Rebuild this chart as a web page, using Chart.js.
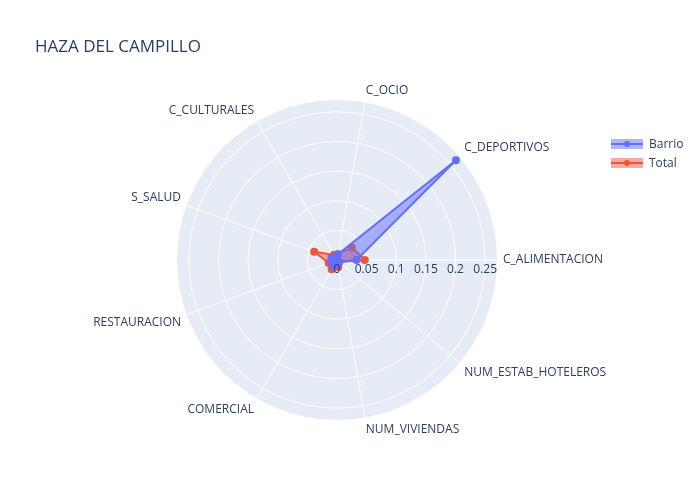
<!DOCTYPE html>
<html>
<head>
<meta charset="utf-8">
<script src="https://cdn.jsdelivr.net/npm/chart.js@4/dist/chart.umd.min.js"></script>
<style>
  body { margin:0; background:#fff; font-family:"Open Sans", sans-serif; }
  #wrap { position:relative; width:700px; height:500px; }
  #title { position:absolute; left:35px; top:34px; font-size:17px; color:#2a3f5f; }
  #legend { position:absolute; left:610px; top:134px; font-size:12px; color:#2a3f5f; }
  .item { display:flex; align-items:center; height:19px; }
  .sw { position:relative; width:34px; height:12px; margin-right:5px; }
</style>
</head>
<body>
<div id="wrap">
  <canvas id="c" width="700" height="500"></canvas>
  <div id="title">HAZA DEL CAMPILLO</div>
  <div id="legend">
    <div class="item"><canvas class="sw" id="l0" width="34" height="12"></canvas>Barrio</div>
    <div class="item"><canvas class="sw" id="l1" width="34" height="12"></canvas>Total</div>
  </div>
</div>
<script>
// categories in clockwise order starting at the east (plotly goes counter-clockwise)
var categories = ['C_ALIMENTACION','NUM_ESTAB_HOTELEROS','NUM_VIVIENDAS','COMERCIAL','RESTAURACION','S_SALUD','C_CULTURALES','C_OCIO','C_DEPORTIVOS'];
var barrio = [0.033, 0.005, 0.008, 0.012, 0.010, 0.010, 0.005, 0.010, 0.262];
var total  = [0.047, 0.005, 0.012, 0.018, 0.015, 0.041, 0.010, 0.010, 0.033];
var tickValues = [0, 0.05, 0.1, 0.15, 0.2, 0.25];
var rMax = 0.27;

var colors = ['#636efa', '#ef553b'];
var fills = ['rgba(99,110,250,0.5)', 'rgba(239,85,59,0.5)'];

var polarBg = {
  id: 'polarBg',
  beforeDatasetsDraw: function(chart) {
    var s = chart.scales.r, ctx = chart.ctx;
    var cx = s.xCenter, cy = s.yCenter, R = s.drawingArea;
    ctx.save();
    ctx.fillStyle = '#e5ecf6';
    ctx.beginPath(); ctx.arc(cx, cy, R, 0, Math.PI * 2); ctx.fill();
    ctx.strokeStyle = '#fff'; ctx.lineWidth = 1;
    tickValues.forEach(function(v) {
      if (v === 0) return;
      ctx.beginPath(); ctx.arc(cx, cy, s.getDistanceFromCenterForValue(v), 0, Math.PI * 2); ctx.stroke();
    });
    categories.forEach(function(c, i) {
      var p = s.getPointPosition(i, R);
      ctx.beginPath(); ctx.moveTo(cx, cy); ctx.lineTo(p.x, p.y); ctx.stroke();
    });
    ctx.restore();
  },
  afterDraw: function(chart) {
    var s = chart.scales.r, ctx = chart.ctx;
    var cx = s.xCenter, cy = s.yCenter, R = s.drawingArea;
    ctx.save();
    ctx.fillStyle = '#2a3f5f';
    ctx.font = '12px "Open Sans", sans-serif';
    categories.forEach(function(c, i) {
      var p = s.getPointPosition(i, R + 6);
      var dx = p.x - cx, dy = p.y - cy;
      ctx.textAlign = Math.abs(dx) < 20 ? 'center' : (dx > 0 ? 'left' : 'right');
      ctx.textBaseline = Math.abs(dy) < 20 ? 'middle' : (dy > 0 ? 'top' : 'bottom');
      ctx.fillText(c, p.x, p.y);
    });
    ctx.textAlign = 'center'; ctx.textBaseline = 'top';
    tickValues.forEach(function(v) {
      ctx.fillText(String(v), cx + s.getDistanceFromCenterForValue(v), cy + 4);
    });
    ctx.restore();
  }
};

new Chart(document.getElementById('c'), {
  type: 'radar',
  data: {
    labels: categories,
    datasets: [
      { label: 'Barrio', data: barrio, borderColor: colors[0], backgroundColor: fills[0], pointBackgroundColor: colors[0], pointBorderColor: colors[0], pointRadius: 3, borderWidth: 2, fill: true },
      { label: 'Total', data: total, borderColor: colors[1], backgroundColor: fills[1], pointBackgroundColor: colors[1], pointBorderColor: colors[1], pointRadius: 3, borderWidth: 2, fill: true }
    ]
  },
  options: {
    responsive: false,
    animation: false,
    layout: { padding: { left: 177, right: 203, top: 100, bottom: 80 } },
    plugins: { legend: { display: false }, tooltip: { enabled: false } },
    scales: {
      r: {
        min: 0, max: rMax, startAngle: 90,
        ticks: { display: false, stepSize: 0.05 },
        grid: { display: false },
        angleLines: { display: false },
        pointLabels: { display: false }
      }
    }
  },
  plugins: [polarBg]
});

// legend swatches
[0, 1].forEach(function(i) {
  var ctx = document.getElementById('l' + i).getContext('2d');
  ctx.fillStyle = fills[i]; ctx.fillRect(1, 1, 32, 10);
  ctx.strokeStyle = colors[i]; ctx.lineWidth = 2;
  ctx.beginPath(); ctx.moveTo(1, 6); ctx.lineTo(33, 6); ctx.stroke();
  ctx.fillStyle = colors[i]; ctx.beginPath(); ctx.arc(17, 6, 3, 0, Math.PI * 2); ctx.fill();
});
</script>
</body>
</html>
